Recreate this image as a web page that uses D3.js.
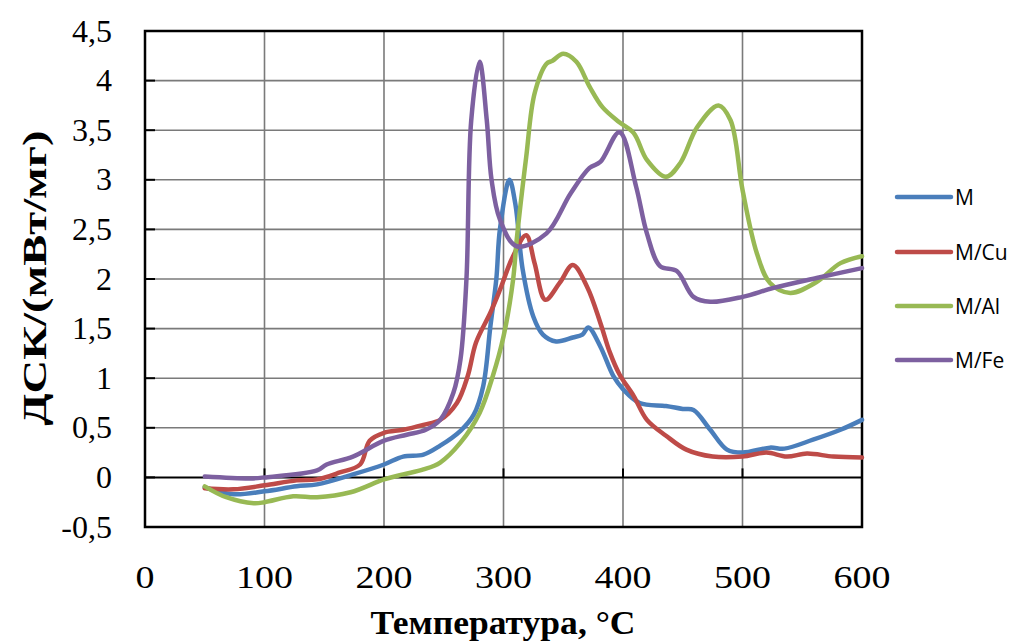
<!DOCTYPE html>
<html>
<head>
<meta charset="utf-8">
<script src="https://cdn.jsdelivr.net/npm/d3@7"></script>
<style>
  body { margin: 0; background: #fff; }
  svg { display: block; }
</style>
</head>
<body>
<svg id="chart" width="1017" height="642"></svg>
<script>
// Series data: [temperature, value]
const seriesNames = ['M', 'M/Cu', 'M/Al', 'M/Fe'];
const seriesColors = ['#4A7EBB', '#BE4B48', '#98B954', '#7D60A0'];

const dataM = [
  [50, -0.1], [74, -0.17], [100, -0.14], [127, -0.09], [144, -0.07], [174, 0.03], [200, 0.13],
  [216, 0.21], [233, 0.23], [247, 0.32], [264, 0.47], [275, 0.63], [283, 0.92], [289, 1.52],
  [294, 2.0], [297, 2.5], [305, 3.0], [310, 2.75], [316, 2.1], [325, 1.62], [333, 1.44],
  [344, 1.37], [358, 1.41], [366, 1.44], [371, 1.51], [381, 1.32], [392, 1.02], [400, 0.89],
  [414, 0.75], [436, 0.72], [450, 0.69], [459, 0.68], [473, 0.48], [487, 0.28], [500, 0.25],
  [523, 0.3], [535, 0.29], [559, 0.38], [582, 0.48], [600, 0.58]
];
const dataCu = [
  [50, -0.11], [74, -0.12], [100, -0.08], [127, -0.03], [144, -0.02], [163, 0.05], [180, 0.13],
  [188, 0.37], [200, 0.45], [216, 0.48], [233, 0.53], [247, 0.58], [261, 0.75], [270, 1.02],
  [277, 1.36], [289, 1.66], [297, 1.89], [308, 2.23], [319, 2.44], [326, 2.16], [335, 1.79],
  [347, 1.96], [358, 2.14], [370, 1.92], [381, 1.56], [389, 1.26], [397, 1.04], [409, 0.82],
  [420, 0.58], [436, 0.42], [453, 0.28], [475, 0.21], [500, 0.21], [520, 0.25], [537, 0.21],
  [554, 0.24], [576, 0.21], [600, 0.2]
];
const dataAl = [
  [50, -0.09], [68, -0.2], [91, -0.26], [100, -0.25], [124, -0.19], [144, -0.2], [172, -0.15],
  [200, -0.02], [216, 0.03], [233, 0.08], [247, 0.15], [264, 0.35], [280, 0.65], [291, 1.02],
  [300, 1.42], [308, 1.99], [311, 2.39], [319, 3.23], [326, 3.87], [336, 4.17], [341, 4.2],
  [350, 4.27], [361, 4.19], [372, 3.94], [383, 3.73], [397, 3.58], [409, 3.47], [420, 3.2],
  [436, 3.03], [448, 3.17], [462, 3.53], [480, 3.75], [490, 3.6], [500, 2.9], [512, 2.26],
  [523, 1.96], [540, 1.86], [562, 1.97], [582, 2.16], [600, 2.23]
];
const dataFe = [
  [50, 0.01], [88, -0.01], [100, 0.0], [144, 0.07], [152, 0.13], [174, 0.21], [200, 0.37],
  [219, 0.43], [235, 0.48], [247, 0.58], [258, 0.85], [264, 1.19], [269, 2.0], [273, 3.6],
  [280, 4.19], [286, 3.6], [290, 3.0], [297, 2.6], [311, 2.33], [336, 2.46], [356, 2.86],
  [372, 3.12], [381, 3.18], [397, 3.48], [411, 2.93], [420, 2.46], [431, 2.13], [445, 2.08],
  [459, 1.82], [473, 1.77], [500, 1.82], [526, 1.91], [562, 2.01], [600, 2.11]
];
const allSeries = [dataM, dataCu, dataAl, dataFe];

const xTicks = [0, 100, 200, 300, 400, 500, 600];
const yTicks = [-0.5, 0, 0.5, 1, 1.5, 2, 2.5, 3, 3.5, 4, 4.5];

const svg = d3.select('#chart');

// Plot area
const plotLeft = 145, plotRight = 862, plotTop = 31, plotBottom = 527;

const x = d3.scaleLinear().domain([0, 600]).range([plotLeft, plotRight]);
const y = d3.scaleLinear().domain([-0.5, 4.5]).range([plotBottom, plotTop]);

const fmt = d => String(d).replace('.', ',');
const serif = '"Liberation Serif", "Times New Roman", serif';

// Grid lines
svg.append('g')
    .selectAll('line')
    .data(xTicks.slice(1, -1))
    .join('line')
    .attr('x1', d => x(d)).attr('x2', d => x(d))
    .attr('y1', plotTop).attr('y2', plotBottom)
    .attr('stroke', '#7a7a7a').attr('stroke-width', 1.6);

svg.append('g')
    .selectAll('line')
    .data(yTicks.filter(d => d !== 0 && d !== -0.5 && d !== 4.5))
    .join('line')
    .attr('x1', plotLeft).attr('x2', plotRight)
    .attr('y1', d => y(d)).attr('y2', d => y(d))
    .attr('stroke', '#7a7a7a').attr('stroke-width', 1.6);

// Horizontal axis along y = 0
svg.append('line')
    .attr('x1', plotLeft).attr('x2', plotRight)
    .attr('y1', y(0)).attr('y2', y(0))
    .attr('stroke', '#000').attr('stroke-width', 2);

svg.append('g')
    .selectAll('line')
    .data(xTicks.slice(1, -1))
    .join('line')
    .attr('x1', d => x(d)).attr('x2', d => x(d))
    .attr('y1', y(0) - 9).attr('y2', y(0))
    .attr('stroke', '#000').attr('stroke-width', 2);

// Y ticks (pointing inward)
svg.append('g')
    .selectAll('line')
    .data(yTicks)
    .join('line')
    .attr('x1', plotLeft).attr('x2', plotLeft + 10)
    .attr('y1', d => y(d)).attr('y2', d => y(d))
    .attr('stroke', '#000').attr('stroke-width', 2);

// Frame
svg.append('rect')
    .attr('x', plotLeft).attr('y', plotTop)
    .attr('width', plotRight - plotLeft).attr('height', plotBottom - plotTop)
    .attr('fill', 'none').attr('stroke', '#000').attr('stroke-width', 2.5);

// Lines
const line = d3.line()
    .x(d => x(d[0]))
    .y(d => y(d[1]))
    .curve(d3.curveCatmullRom.alpha(0.5));

svg.append('g')
    .selectAll('path')
    .data(allSeries)
    .join('path')
    .attr('d', line)
    .attr('fill', 'none')
    .attr('stroke', (d, i) => seriesColors[i])
    .attr('stroke-width', 4.5)
    .attr('stroke-linejoin', 'round')
    .attr('stroke-linecap', 'round');

// Tick labels
svg.append('g')
    .selectAll('text')
    .data(yTicks)
    .join('text')
    .attr('x', 112)
    .attr('y', d => y(d))
    .attr('dy', '0.33em')
    .attr('text-anchor', 'end')
    .attr('font-family', serif)
    .attr('font-size', 32)
    .text(fmt);

svg.append('g')
    .selectAll('text')
    .data(xTicks)
    .join('text')
    .attr('x', d => x(d))
    .attr('y', 588)
    .attr('text-anchor', 'middle')
    .attr('font-family', serif)
    .attr('font-size', 31)
    .attr('textLength', d => String(d).length * 19)
    .attr('lengthAdjust', 'spacingAndGlyphs')
    .text(d => d);

// Axis titles
svg.append('text')
    .attr('x', 503)
    .attr('y', 634)
    .attr('text-anchor', 'middle')
    .attr('font-family', serif)
    .attr('font-weight', 'bold')
    .attr('font-size', 33)
    .attr('textLength', 265)
    .attr('lengthAdjust', 'spacingAndGlyphs')
    .text('Температура, °С');

svg.append('text')
    .attr('transform', 'translate(46,278) rotate(-90)')
    .attr('text-anchor', 'middle')
    .attr('font-family', serif)
    .attr('font-weight', 'bold')
    .attr('font-size', 34)
    .attr('textLength', 295)
    .attr('lengthAdjust', 'spacingAndGlyphs')
    .text('ДСК/(мВт/мг)');

// Legend
const legendY = [197, 252, 306, 360];
const legend = svg.append('g')
    .selectAll('g')
    .data(seriesNames)
    .join('g')
    .attr('transform', (d, i) => `translate(897,${legendY[i]})`);

legend.append('line')
    .attr('x1', 0).attr('x2', 54)
    .attr('stroke', (d, i) => seriesColors[i])
    .attr('stroke-width', 4.5)
    .attr('stroke-linecap', 'round');

legend.append('text')
    .attr('x', 58)
    .attr('dy', '0.36em')
    .attr('font-family', '"Open Sans", "Liberation Sans", sans-serif')
    .attr('font-size', 21)
    .attr('fill', '#000')
    .text(d => d);
</script>
</body>
</html>
